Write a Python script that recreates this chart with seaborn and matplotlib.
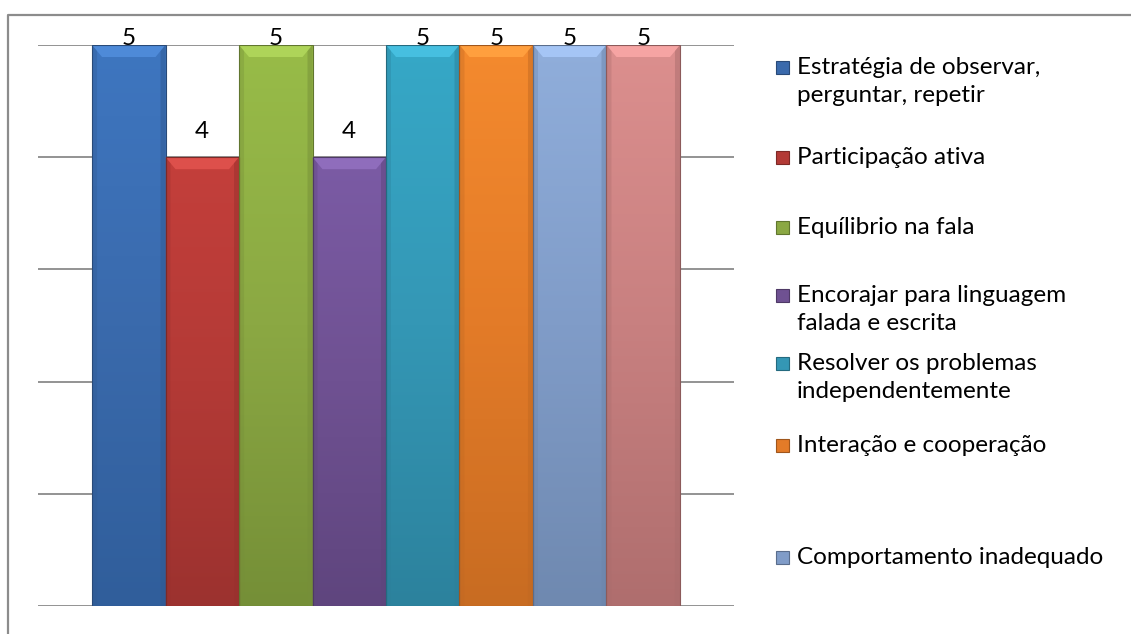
import numpy as np
import pandas as pd
import matplotlib
matplotlib.use("Agg")
import matplotlib.pyplot as plt
import matplotlib.colors as mcolors
from matplotlib.patches import Polygon, Rectangle
from matplotlib.lines import Line2D
import seaborn as sns

# ---- data -------------------------------------------------------------
legend_labels = [
    "Estratégia de observar,\nperguntar, repetir",
    "Participação ativa",
    "Equílibrio na fala",
    "Encorajar para linguagem\nfalada e escrita",
    "Resolver os problemas\nindependentemente",
    "Interação e cooperação",
    "Comportamento inadequado",
]
values = [5, 4, 5, 4, 5, 5, 5, 5]
y_ticks = [0, 1, 2, 3, 4, 5]

# face colours (top, middle, bottom of each bar's gradient)
top_colors = ["#3E76C0", "#C43F3B", "#98BC48", "#7B5BA5",
              "#36A8C7", "#F48A2E", "#90AEDB", "#DC8F8E"]
mid_colors = ["#3A6AAC", "#B33A36", "#8BA843", "#6F5192",
              "#3497B5", "#E37B28", "#809CC8", "#C88080"]
bot_colors = ["#305E9B", "#9C322F", "#758F37", "#5F457E",
              "#2C829D", "#C86C22", "#6F89B0", "#AF6E6E"]

# ---- figure -----------------------------------------------------------
sns.set_theme(style="white")
plt.rcParams["font.family"] = ["Lato", "DejaVu Sans"]

W, H = 1131, 634
fig = plt.figure(figsize=(W / 100, H / 100), dpi=100)
fig.patch.set_facecolor("white")

ax_l, ax_r, ax_t, ax_b = 38, 734, 45, 606
ax = fig.add_axes([ax_l / W, 1 - ax_b / H, (ax_r - ax_l) / W, (ax_b - ax_t) / H])

df = pd.DataFrame({"pos": list(range(len(values))), "valor": values})
sns.barplot(data=df, x="pos", y="valor", hue="pos", palette=mid_colors,
            width=1.0, saturation=1, dodge=False, legend=False, ax=ax, zorder=3)

xmin, xmax = -1.235, len(values) - 1 + 1.235
ax.set_xlim(xmin, xmax)
ax.set_ylim(0, 5)
ax.set_xticks([])
ax.set_yticks([])
ax.set_xlabel("")
ax.set_ylabel("")
for s in ax.spines.values():
    s.set_visible(False)
ax.set_facecolor("white")

# horizontal gridlines
for t in y_ticks:
    ax.axhline(t, color="#8A8A8A", lw=1.3, zorder=1)

# pixel -> data scale
px_x = (xmax - xmin) / (ax_r - ax_l)
px_y = 5 / (ax_b - ax_t)

# gradient fill with bevelled top for each bar
for i, p in enumerate(ax.patches):
    x0, w, h = p.get_x(), p.get_width(), p.get_height()
    p.set_facecolor("none")
    p.set_edgecolor("none")
    cmap = mcolors.LinearSegmentedColormap.from_list(
        f"g{i}", [bot_colors[i], mid_colors[i], top_colors[i]])
    grad = np.linspace(0, 1, 256).reshape(-1, 1)
    im = ax.imshow(grad, cmap=cmap, origin="lower", aspect="auto",
                   extent=[x0, x0 + w, 0, h], zorder=3)
    im.set_clip_path(p)
    bx, by = 10 * px_x, 12 * px_y
    light = mcolors.to_rgb(top_colors[i])
    light = tuple(min(1, c * 1.06 + 0.05) for c in light)
    ax.add_patch(Polygon([[x0, h], [x0 + w, h], [x0 + w - bx, h - by], [x0 + bx, h - by]],
                         closed=True, facecolor=light, edgecolor="none", zorder=4))
    dark = tuple(c * 0.85 for c in mcolors.to_rgb(mid_colors[i]))
    ax.add_patch(Polygon([[x0, h], [x0 + bx * 0.5, h - by * 0.5], [x0 + bx * 0.5, 0], [x0, 0]],
                         closed=True, facecolor=dark, edgecolor="none", alpha=0.35, zorder=4))
    ax.add_patch(Polygon([[x0 + w, h], [x0 + w - bx * 0.5, h - by * 0.5], [x0 + w - bx * 0.5, 0], [x0 + w, 0]],
                         closed=True, facecolor=dark, edgecolor="none", alpha=0.5, zorder=4))
    ax.add_patch(Rectangle((x0, 0), w, h, facecolor="none",
                           edgecolor=tuple(c * 0.7 for c in mcolors.to_rgb(mid_colors[i])),
                           lw=0.8, zorder=5))

    # value label above the bar (kept inside the plot top)
    ly = min(h + 19 * px_y, 5.0)
    ax.text(x0 + w / 2, ly, f"{values[i]}", ha="center", va="baseline",
            fontsize=17.5, color="black", zorder=6, clip_on=False)

# legend entries (first-line centre in pixels from the top)
entry_y = [67, 157, 227, 295, 363, 445, 557]
line_h = 29
for lab, col, y0 in zip(legend_labels, mid_colors, entry_y):
    fig.add_artist(Rectangle((776 / W, 1 - (y0 + 7) / H), 13 / W, 13 / H,
                             transform=fig.transFigure, facecolor=col,
                             edgecolor=tuple(c * 0.7 for c in mcolors.to_rgb(col)), lw=0.8))
    for k, line in enumerate(lab.split("\n")):
        fig.text(797 / W, 1 - (y0 + k * line_h) / H, line, ha="left", va="center",
                 fontsize=17.5, color="black")

# outer chart frame (left and top edges)
fig.add_artist(Line2D([8 / W, 8 / W, 1.0], [0.0, 1 - 15 / H, 1 - 15 / H],
                      transform=fig.transFigure, color="#8C8C8C", lw=1.6))

fig.savefig("out.png", dpi=100, facecolor="white")
